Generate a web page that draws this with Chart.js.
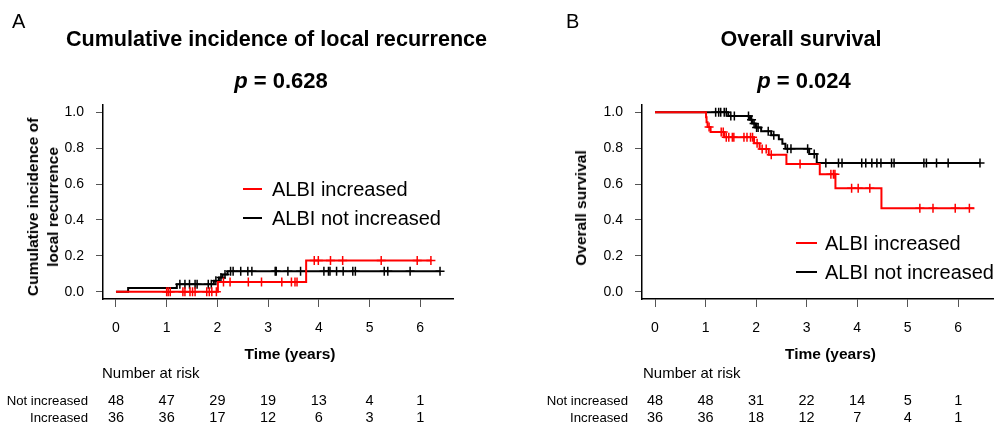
<!DOCTYPE html>
<html>
<head>
<meta charset="utf-8">
<script src="https://cdn.jsdelivr.net/npm/chart.js@4.4.0/dist/chart.umd.min.js"></script>
<style>
  body { margin: 0; background: #fff; }
  #wrap { position: relative; width: 999px; height: 432px; overflow: hidden;
          font-family: Arial, "Liberation Sans", sans-serif; color: #000; }
  #wrap canvas { position: absolute; top: 0; }
  .t { position: absolute; white-space: nowrap; line-height: 1; }
  .seg { position: absolute; height: 2px; }
  .ytitle { position: absolute; font-weight: bold; font-size: 15.5px; line-height: 20px;
            text-align: center; white-space: nowrap; transform: translate(-50%, -50%) rotate(-90deg); }
</style>
</head>
<body>
<div id="wrap">
  <canvas id="chartA" width="500" height="432" style="left:0"></canvas>
  <canvas id="chartB" width="499" height="432" style="left:500px"></canvas>
</div>
<script>
const FONT = 'Arial, "Liberation Sans", sans-serif';
const RED = '#ff0000';
const BLACK = '#000000';

// axes
const timeTicks = [0, 1, 2, 3, 4, 5, 6];
const probTicks = [0, 0.2, 0.4, 0.6, 0.8, 1.0];
const groupNames = ['ALBI increased', 'ALBI not increased'];
const riskRowNames = ['Not increased', 'Increased'];

// A: cumulative incidence of local recurrence (step curves: time where level starts, level)
const ciIncTimes  = [0, 2.01, 3.75, 6.22];
const ciIncValues = [0, 0.055, 0.175, 0.175];
const ciIncCensor = [1.00, 1.03, 1.07, 1.32, 1.36, 1.46, 1.51, 1.56, 1.79, 1.84, 1.89, 1.98,
                     2.12, 2.25, 2.61, 2.87, 3.27, 3.46, 3.53, 3.57,
                     3.91, 3.99, 4.23, 4.47, 5.23, 5.94, 6.21];
const ciNotTimes  = [0, 0.24, 1.20, 1.93, 2.03, 2.10, 2.20, 6.39];
const ciNotValues = [0, 0.021, 0.042, 0.061, 0.080, 0.097, 0.114, 0.114];
const ciNotCensor = [1.26, 1.36, 1.45, 1.56, 1.60, 1.82, 1.88, 1.97, 2.07, 2.15,
                     2.26, 2.31, 2.46, 2.60, 2.68, 3.14, 3.16, 3.39, 3.64,
                     4.10, 4.19, 4.22, 4.35, 4.48, 4.67, 4.72, 5.29, 5.36, 5.80, 6.39];
const riskANot = [48, 47, 29, 19, 13, 4, 1];
const riskAInc = [36, 36, 17, 12, 6, 3, 1];

// B: overall survival
const osIncTimes  = [0, 1.01, 1.02, 1.04, 1.10, 1.37, 1.96, 2.07, 2.25, 2.60, 3.26, 3.57, 4.48, 6.32];
const osIncValues = [1, 0.972, 0.944, 0.917, 0.889, 0.860, 0.827, 0.795, 0.763, 0.711, 0.655, 0.577, 0.465, 0.465];
const osIncCensor = [1.07, 1.31, 1.35, 1.41, 1.46, 1.53, 1.56, 1.76, 1.82, 1.89, 1.93, 2.02,
                     2.12, 2.20, 2.30, 2.87, 3.48, 3.53, 3.56, 3.89, 4.02, 4.25,
                     5.24, 5.50, 5.94, 6.22];
const osNotTimes  = [0, 1.45, 1.88, 1.93, 1.99, 2.10, 2.30, 2.45, 2.52, 2.58, 3.05, 3.20, 6.43];
const osNotValues = [1, 0.979, 0.958, 0.937, 0.915, 0.894, 0.872, 0.850, 0.824, 0.797, 0.767, 0.717, 0.717];
const osNotCensor = [1.20, 1.26, 1.30, 1.37, 1.41, 1.50, 1.57, 1.85, 1.91, 1.96, 2.01, 2.04,
                     2.24, 2.35, 2.62, 2.69, 3.02, 3.15,
                     3.38, 3.63, 3.70, 4.09, 4.17, 4.29, 4.39, 4.47, 4.68, 4.73,
                     5.32, 5.37, 5.57, 5.80, 6.43];
const riskBNot = [48, 48, 31, 22, 14, 5, 1];
const riskBInc = [36, 36, 18, 12, 7, 4, 1];

const wrap = document.getElementById('wrap');

// text placed by its baseline (line-height 1, Liberation Sans metrics)
function label(html, x, baseline, size, opts = {}) {
    const el = document.createElement('div');
    el.className = 't';
    el.innerHTML = html;
    el.style.fontSize = size + 'px';
    el.style.top = (baseline - 0.847 * size) + 'px';
    el.style.left = x + 'px';
    if (opts.bold) el.style.fontWeight = 'bold';
    if (opts.align === 'center') el.style.transform = 'translateX(-50%)';
    if (opts.align === 'right') el.style.transform = 'translateX(-100%)';
    wrap.appendChild(el);
    return el;
}

function levelAt(times, values, t) {
    let v = values[0];
    for (let i = 0; i < times.length; i++) {
        if (times[i] <= t) v = values[i];
    }
    return v;
}

function stepSet(times, values, color) {
    return {
        type: 'line',
        data: times.map((t, i) => ({ x: t, y: values[i] })),
        stepped: true,
        borderColor: color,
        borderWidth: 2,
        pointRadius: 0,
        fill: false
    };
}

function censorSet(censor, times, values, color) {
    return {
        type: 'scatter',
        data: censor.map(t => ({ x: t, y: levelAt(times, values, t) })),
        pointStyle: 'cross',
        pointRadius: 4.5,
        borderColor: color,
        backgroundColor: color,
        borderWidth: 1.5
    };
}

function makeChart(id, curves, area) {
    const canvas = document.getElementById(id);
    const xmax = Math.max(...curves.map(c => c.times[c.times.length - 1]));
    const datasets = [];
    // red first so it is drawn on top
    curves.forEach(c => {
        datasets.push(stepSet(c.times, c.values, c.color));
        datasets.push(censorSet(c.censor, c.times, c.values, c.color));
    });
    const X_H = 45;
    return new Chart(canvas, {
        type: 'scatter',
        data: { datasets },
        options: {
            responsive: false,
            animation: false,
            devicePixelRatio: 1,
            layout: {
                autoPadding: false,
                padding: { left: 0, top: area.top, right: canvas.width - area.right,
                           bottom: canvas.height - area.bottom - X_H }
            },
            plugins: { legend: { display: false }, tooltip: { enabled: false } },
            scales: {
                x: {
                    type: 'linear',
                    min: -0.04 * xmax,
                    max: 1.04 * xmax,
                    afterBuildTicks: s => { s.ticks = timeTicks.map(v => ({ value: v })); },
                    afterFit: s => { s.height = X_H; },
                    grid: { drawOnChartArea: false, tickLength: 8, color: '#555', lineWidth: 1 },
                    border: { display: true, color: '#000', width: 1.5 },
                    ticks: { color: '#000', font: { family: FONT, size: 14 }, padding: 13,
                             maxRotation: 0, autoSkip: false, callback: v => String(v) }
                },
                y: {
                    type: 'linear',
                    min: -0.04,
                    max: 1.04,
                    afterBuildTicks: s => { s.ticks = probTicks.map(v => ({ value: v })); },
                    afterFit: s => { s.width = area.left; },
                    grid: { drawOnChartArea: false, tickLength: 7, color: '#555', lineWidth: 1 },
                    border: { display: true, color: '#000', width: 1.5 },
                    ticks: { color: '#000', font: { family: FONT, size: 14 }, padding: 12,
                             autoSkip: false, callback: v => v.toFixed(1) }
                }
            }
        }
    });
}

const chartA = makeChart('chartA', [
    { times: ciIncTimes, values: ciIncValues, censor: ciIncCensor, color: RED },
    { times: ciNotTimes, values: ciNotValues, censor: ciNotCensor, color: BLACK }
], { left: 103, right: 453, top: 105, bottom: 299 });

const chartB = makeChart('chartB', [
    { times: osIncTimes, values: osIncValues, censor: osIncCensor, color: RED },
    { times: osNotTimes, values: osNotValues, censor: osNotCensor, color: BLACK }
], { left: 142, right: 493, top: 105, bottom: 299 });

// headings
label('A', 12, 28, 20);
label('B', 566, 28, 20);
label('Cumulative incidence of local recurrence', 276.5, 46, 21.6, { bold: true, align: 'center' });
label('Overall survival', 801, 46, 21.6, { bold: true, align: 'center' });
label('<i>p</i> = 0.628', 281, 89, 22, { bold: true, align: 'center' });
label('<i>p</i> = 0.024', 804, 89, 22, { bold: true, align: 'center' });

// axis titles
label('Time (years)', 290, 359, 15.5, { bold: true, align: 'center' });
label('Time (years)', 830.5, 359, 15.5, { bold: true, align: 'center' });
const ytA = document.createElement('div');
ytA.className = 'ytitle';
ytA.innerHTML = 'Cumulative incidence of<br>local recurrence';
ytA.style.left = '43px'; ytA.style.top = '207px';
wrap.appendChild(ytA);
const ytB = document.createElement('div');
ytB.className = 'ytitle';
ytB.textContent = 'Overall survival';
ytB.style.left = '581px'; ytB.style.top = '208px';
wrap.appendChild(ytB);

// legends
function legend(x0, x1, textX, y0, dy) {
    [RED, BLACK].forEach((col, i) => {
        const seg = document.createElement('div');
        seg.className = 'seg';
        seg.style.background = col;
        seg.style.left = x0 + 'px';
        seg.style.width = (x1 - x0) + 'px';
        seg.style.top = (y0 + i * dy - 1) + 'px';
        wrap.appendChild(seg);
        label(groupNames[i], textX, y0 + i * dy + 7.2, 20);
    });
}
legend(243, 262, 272, 189, 29);
legend(796, 817, 825, 243, 29);

// number at risk tables, numbers aligned with the time axis
function riskTable(chart, offsetX, titleX, rowRight, rows) {
    label('Number at risk', titleX, 378, 15);
    const baselines = [405, 422.5];
    rows.forEach((row, r) => {
        label(riskRowNames[r], rowRight, baselines[r], 13.2, { align: 'right' });
        timeTicks.forEach((t, i) => {
            const px = offsetX + chart.scales.x.getPixelForValue(t);
            label(String(row[i]), px, baselines[r], 14.5, { align: 'center' });
        });
    });
}
riskTable(chartA, 0, 102, 88, [riskANot, riskAInc]);
riskTable(chartB, 500, 643, 628, [riskBNot, riskBInc]);
</script>
</body>
</html>
